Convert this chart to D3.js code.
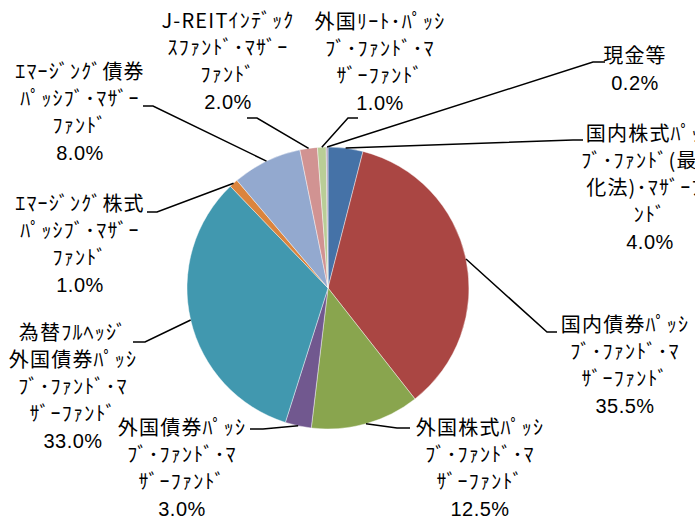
<!DOCTYPE html>
<html>
<head>
<meta charset="utf-8">
<script src="https://cdn.jsdelivr.net/npm/d3@7"></script>
<style>
    body { margin: 0; background: #fff; }
    #chart text { font-family: "Noto Sans CJK JP", "Noto Sans", sans-serif; font-size: 20px; fill: #000; letter-spacing: 1.2px; }
    #chart tspan.pct { font-family: "Liberation Sans Narrow", "Liberation Sans", sans-serif; letter-spacing: 0.5px; }
</style>
</head>
<body>
<div id="chart"></div>
<script>
// data
const categories = [
    "国内株式パッシブ・ファンド（最適化法）・マザーファンド",
    "国内債券パッシブ・ファンド・マザーファンド",
    "外国株式パッシブ・ファンド・マザーファンド",
    "外国債券パッシブ・ファンド・マザーファンド",
    "為替フルヘッジ外国債券パッシブ・ファンド・マザーファンド",
    "エマージング株式パッシブ・マザーファンド",
    "エマージング債券パッシブ・マザーファンド",
    "J-REITインデックスファンド・マザーファンド",
    "外国リート・パッシブ・ファンド・マザーファンド",
    "現金等"
];
const values = [4.0, 35.5, 12.5, 3.0, 33.0, 1.0, 8.0, 2.0, 1.0, 0.2];

// label text as it wraps in the picture
const labelLines = [
    ["国内株式ﾊﾟｯｼ", "ﾌﾞ･ﾌｧﾝﾄﾞ(最適", "化法)･ﾏｻﾞｰﾌｧ", "ﾝﾄﾞ"],
    ["国内債券ﾊﾟｯｼ", "ﾌﾞ･ﾌｧﾝﾄﾞ･ﾏ", "ｻﾞｰﾌｧﾝﾄﾞ"],
    ["外国株式ﾊﾟｯｼ", "ﾌﾞ･ﾌｧﾝﾄﾞ･ﾏ", "ｻﾞｰﾌｧﾝﾄﾞ"],
    ["外国債券ﾊﾟｯｼ", "ﾌﾞ･ﾌｧﾝﾄﾞ･ﾏ", "ｻﾞｰﾌｧﾝﾄﾞ"],
    ["為替ﾌﾙﾍｯｼﾞ", "外国債券ﾊﾟｯｼ", "ﾌﾞ･ﾌｧﾝﾄﾞ･ﾏ", "ｻﾞｰﾌｧﾝﾄﾞ"],
    ["ｴﾏｰｼﾞﾝｸﾞ株式", "ﾊﾟｯｼﾌﾞ･ﾏｻﾞｰ", "ﾌｧﾝﾄﾞ"],
    ["ｴﾏｰｼﾞﾝｸﾞ債券", "ﾊﾟｯｼﾌﾞ･ﾏｻﾞｰ", "ﾌｧﾝﾄﾞ"],
    ["J-REITｲﾝﾃﾞｯｸ", "ｽﾌｧﾝﾄﾞ･ﾏｻﾞｰ", "ﾌｧﾝﾄﾞ"],
    ["外国ﾘｰﾄ･ﾊﾟｯｼ", "ﾌﾞ･ﾌｧﾝﾄﾞ･ﾏ", "ｻﾞｰﾌｧﾝﾄﾞ"],
    ["現金等"]
];

const colors = ["#4572A7", "#AA4643", "#89A54E", "#71588F", "#4198AF",
    "#DB843D", "#93A9CF", "#D19392", "#B9CD96", "#A99BBD"];

// label placement (text centre x, first line y, leader elbow x, leader end x, leader y)
const labelLayout = [
    { cx: 650, cy: 134, ex: 573, lx: 583, ly: 140 },
    { cx: 625, cy: 325, ex: 547, lx: 557, ly: 332 },
    { cx: 480, cy: 428, ex: 397, lx: 410, ly: 428 },
    { cx: 182, cy: 428, ex: 263, lx: 250, ly: 429 },
    { cx: 73, cy: 333, ex: 145, lx: 133, ly: 342 },
    { cx: 80, cy: 204, ex: 157, lx: 147, ly: 212 },
    { cx: 80, cy: 72, ex: 153, lx: 143, ly: 106 },
    { cx: 228, cy: 21, ex: 257, lx: 247, ly: 118 },
    { cx: 380, cy: 22, ex: 348, lx: 358, ly: 118 },
    { cx: 635, cy: 56, ex: 593, lx: 605, ly: 62 }
];

class visPie {

    constructor(parentElement) {
        this.parentElement = parentElement;
        this.initVis();
    }

    initVis() {
        let vis = this;

        vis.width = 695;
        vis.height = 521;
        vis.cx = 328;
        vis.cy = 288;
        vis.radius = 141;
        vis.lineH = 27;

        vis.svg = d3.select("#" + vis.parentElement).append("svg")
            .attr("width", vis.width)
            .attr("height", vis.height);

        vis.pie = d3.pie().sort(null).value(d => d.value);
        vis.arc = d3.arc().innerRadius(0).outerRadius(vis.radius);
        vis.edge = d3.arc().innerRadius(vis.radius).outerRadius(vis.radius);

        vis.wrangleData();
    }

    wrangleData() {
        let vis = this;
        vis.displayData = categories.map((c, i) => ({
            name: c,
            value: values[i],
            lines: labelLines[i].concat([values[i].toFixed(1) + "%"]),
            layout: labelLayout[i],
            color: colors[i]
        }));
        vis.updateVis();
    }

    updateVis() {
        let vis = this;
        let arcs = vis.pie(vis.displayData);

        let g = vis.svg.append("g")
            .attr("transform", `translate(${vis.cx},${vis.cy})`);

        g.selectAll(".slice")
            .data(arcs)
            .join("path")
            .attr("class", "slice")
            .attr("d", vis.arc)
            .attr("fill", d => d.data.color)
            .attr("stroke", "#fff")
            .attr("stroke-width", 0.6)
            .attr("stroke-opacity", 0.7);

        // leader lines
        let line = d3.line();
        vis.svg.selectAll(".leader")
            .data(arcs)
            .join("path")
            .attr("class", "leader")
            .attr("fill", "none")
            .attr("stroke", "#000")
            .attr("stroke-width", 1.5)
            .attr("d", d => {
                let p = vis.edge.centroid(d);
                let l = d.data.layout;
                return line([[p[0] + vis.cx, p[1] + vis.cy], [l.ex, l.ly], [l.lx, l.ly]]);
            });

        // labels
        let labels = vis.svg.selectAll(".lbl")
            .data(vis.displayData)
            .join("text")
            .attr("class", "lbl")
            .attr("text-anchor", "middle");

        labels.selectAll("tspan")
            .data(d => d.lines.map((t, i) => ({ t: t, i: i, l: d.layout, last: i === d.lines.length - 1 })))
            .join("tspan")
            .attr("class", d => d.last ? "pct" : null)
            .attr("x", d => d.l.cx)
            .attr("y", d => d.l.cy + d.i * vis.lineH + 7)
            .text(d => d.t);
    }
}

new visPie("chart");
</script>
</body>
</html>
